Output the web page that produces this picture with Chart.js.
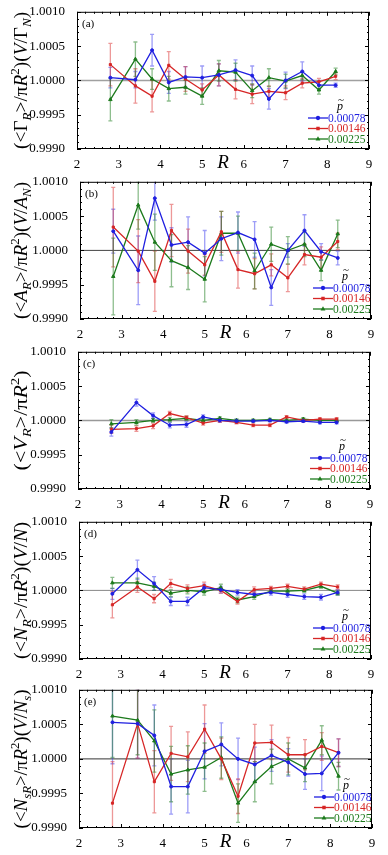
<!DOCTYPE html>
<html>
<head>
<meta charset="utf-8">
<script src="https://cdn.jsdelivr.net/npm/chart.js@4.4.1/dist/chart.umd.min.js"></script>
<style>
  html, body { margin: 0; padding: 0; background: #fff; }
  #wrap { position: relative; width: 388px; height: 855px; }
  #wrap canvas { position: absolute; left: 0; }
</style>
</head>
<body>
<div id="wrap">
  <canvas id="pa" width="388" height="172" style="top:0px"></canvas>
  <canvas id="pb" width="388" height="172" style="top:170px"></canvas>
  <canvas id="pc" width="388" height="172" style="top:340px"></canvas>
  <canvas id="pd" width="388" height="172" style="top:510px"></canvas>
  <canvas id="pe" width="388" height="172" style="top:678px"></canvas>
</div>
<script>
// R values shared by all panels
const R = [2.8, 3.4, 3.8, 4.2, 4.6, 5.0, 5.4, 5.8, 6.2, 6.6, 7.0, 7.4, 7.8, 8.2];
const pLabels = ['0.00078', '0.00146', '0.00225'];
const xTicks = [2, 3, 4, 5, 6, 7, 8, 9];
const yTicks = [0.9990, 0.9995, 1.0000, 1.0005, 1.0010];

// (a) Gamma
const gammaBlue  = [1.00004, 1.00001, 1.00044, 0.99997, 1.00005, 1.00004, 1.00008, 1.00015, 1.00007, 0.99973, 1.00000, 1.00013, 0.99993, 0.99993];
const gammaRed   = [1.00023, 0.99992, 0.99977, 1.00022, 1.00002, 0.99986, 1.00008, 0.99987, 0.99980, 0.99984, 0.99982, 0.99996, 0.99998, 1.00006];
const gammaGreen = [0.99972, 1.00031, 1.00002, 0.99988, 0.99990, 0.99977, 1.00014, 1.00012, 0.99985, 1.00004, 0.99999, 1.00007, 0.99986, 1.00013];
const gammaBlueErr  = [0.00015, 0.00012, 0.00023, 0.00016, 0.00015, 0.00017, 0.00016, 0.00015, 0.00014, 0.00015, 0.00012, 0.00014, 0.00006, 0.00003];
const gammaRedErr   = [0.00031, 0.00025, 0.00023, 0.00020, 0.00018, 0.00009, 0.00016, 0.00014, 0.00014, 0.00008, 0.00010, 0.00007, 0.00005, 0.00005];
const gammaGreenErr = [0.00031, 0.00025, 0.00015, 0.00018, 0.00010, 0.00012, 0.00015, 0.00013, 0.00010, 0.00013, 0.00010, 0.00006, 0.00006, 0.00005];

// (b) A
const areaBlue  = [1.00028, 0.99971, 1.00076, 1.00008, 1.00012, 0.99996, 1.00017, 1.00026, 1.00016, 0.99946, 1.00000, 1.00029, 0.99998, 0.99989];
const areaRed   = [1.00034, 0.99999, 0.99955, 1.00029, 0.99999, 0.99979, 1.00027, 0.99972, 0.99966, 0.99979, 0.99960, 0.99994, 0.99990, 1.00013];
const areaGreen = [0.99962, 1.00066, 1.00012, 0.99985, 0.99975, 0.99958, 1.00025, 1.00025, 0.99970, 1.00009, 1.00000, 1.00009, 0.99971, 1.00024];
const areaBlueErr  = [0.00032, 0.00050, 0.00032, 0.00025, 0.00037, 0.00033, 0.00032, 0.00030, 0.00026, 0.00026, 0.00010, 0.00023, 0.00012, 0.00010];
const areaRedErr   = [0.00058, 0.00046, 0.00044, 0.00038, 0.00032, 0.00015, 0.00030, 0.00027, 0.00022, 0.00016, 0.00020, 0.00015, 0.00015, 0.00012];
const areaGreenErr = [0.00056, 0.00035, 0.00041, 0.00038, 0.00032, 0.00033, 0.00032, 0.00025, 0.00026, 0.00025, 0.00020, 0.00018, 0.00015, 0.00020];

// (c) V
const volBlue  = [0.99983, 1.00026, 1.00007, 0.99993, 0.99994, 1.00005, 1.00000, 0.99999, 0.99999, 1.00000, 0.99998, 0.99999, 0.99997, 0.99997];
const volRed   = [0.99987, 0.99988, 0.99992, 1.00010, 1.00004, 0.99996, 1.00000, 0.99997, 0.99993, 0.99993, 1.00005, 1.00000, 1.00002, 1.00002];
const volGreen = [0.99995, 0.99997, 1.00000, 1.00001, 1.00003, 1.00000, 1.00003, 1.00000, 1.00000, 1.00001, 1.00000, 1.00002, 1.00000, 1.00000];
const volBlueErr  = [0.00006, 0.00005, 0.00004, 0.00004, 0.00004, 0.00003, 0.00003, 0.00003, 0.00002, 0.00002, 0.00002, 0.00002, 0.00002, 0.00002];
const volRedErr   = [0.00006, 0.00004, 0.00004, 0.00003, 0.00003, 0.00003, 0.00003, 0.00002, 0.00002, 0.00002, 0.00002, 0.00002, 0.00002, 0.00002];
const volGreenErr = [0.00006, 0.00004, 0.00003, 0.00003, 0.00003, 0.00003, 0.00002, 0.00002, 0.00002, 0.00002, 0.00002, 0.00002, 0.00002, 0.00002];

// (d) N
const numBlue  = [0.99995, 1.00030, 1.00010, 0.99984, 0.99984, 1.00004, 1.00001, 0.99997, 0.99994, 0.99997, 0.99994, 0.99991, 0.99990, 0.99997];
const numRed   = [0.99979, 1.00005, 0.99988, 1.00010, 1.00003, 1.00007, 1.00000, 0.99984, 1.00001, 1.00003, 1.00006, 1.00002, 1.00009, 1.00005];
const numGreen = [1.00011, 1.00011, 1.00006, 0.99996, 1.00000, 0.99998, 1.00004, 0.99986, 0.99991, 0.99999, 0.99999, 1.00000, 1.00006, 0.99996];
const numBlueErr  = [0.00008, 0.00014, 0.00010, 0.00006, 0.00006, 0.00005, 0.00005, 0.00004, 0.00004, 0.00004, 0.00004, 0.00004, 0.00004, 0.00004];
const numRedErr   = [0.00019, 0.00008, 0.00006, 0.00006, 0.00005, 0.00005, 0.00004, 0.00004, 0.00004, 0.00003, 0.00003, 0.00003, 0.00003, 0.00003];
const numGreenErr = [0.00008, 0.00007, 0.00006, 0.00005, 0.00005, 0.00005, 0.00005, 0.00004, 0.00004, 0.00003, 0.00003, 0.00003, 0.00003, 0.00003];

// (e) N_s
const surfBlue  = [1.00053, 1.00051, 1.00034, 0.99960, 0.99960, 1.00011, 1.00021, 1.00000, 0.99992, 1.00005, 0.99995, 0.99978, 0.99979, 1.00009];
const surfRed   = [0.99936, 1.00051, 0.99967, 1.00008, 1.00003, 1.00043, 1.00000, 0.99946, 1.00023, 1.00024, 1.00006, 1.00006, 1.00018, 1.00009];
const surfGreen = [1.00062, 1.00056, 1.00026, 0.99978, 0.99984, 0.99988, 1.00002, 0.99936, 0.99967, 0.99989, 1.00000, 0.99987, 1.00027, 0.99975];
const surfBlueErr  = [0.00060, 0.00050, 0.00044, 0.00040, 0.00038, 0.00040, 0.00031, 0.00030, 0.00025, 0.00023, 0.00020, 0.00022, 0.00025, 0.00020];
const surfRedErr   = [0.00060, 0.00050, 0.00045, 0.00039, 0.00036, 0.00035, 0.00030, 0.00025, 0.00027, 0.00025, 0.00025, 0.00022, 0.00020, 0.00020];
const surfGreenErr = [0.00060, 0.00050, 0.00045, 0.00040, 0.00035, 0.00035, 0.00030, 0.00028, 0.00029, 0.00025, 0.00023, 0.00020, 0.00021, 0.00020];

const colors = ['#1f1fe0', '#d62626', '#1c7a1c'];
const barColors = ['rgba(60,60,240,0.5)', 'rgba(220,50,50,0.5)', 'rgba(30,125,30,0.5)'];
const styles = ['circle', 'rect', 'triangle'];
const SERIF = '"Liberation Serif", "Times New Roman", serif';

// draws mixed text (italic / sub / sup) rotated along the y axis, squeezed to a given length
function drawRich(ctx, segs, x, cy, size, len) {
  const fontFor = (st) => {
    const small = st === 's' || st === 'bi';
    const sz = small ? size * 0.68 : size;
    const it = st === 'i' || st === 'bi';
    return (it ? 'italic ' : '') + sz + 'px ' + SERIF;
  };
  let total = 0;
  segs.forEach(([t, st]) => { ctx.font = fontFor(st); total += ctx.measureText(t).width; });
  ctx.save();
  ctx.translate(x, cy);
  ctx.rotate(-Math.PI / 2);
  ctx.scale(len / total, 1);
  ctx.fillStyle = '#000';
  ctx.textBaseline = 'alphabetic';
  ctx.textAlign = 'left';
  let px = -total / 2;
  segs.forEach(([t, st]) => {
    ctx.font = fontFor(st);
    let dy = 0;
    if (st === 'bi') dy = size * 0.22;
    if (st === 's') dy = -size * 0.42;
    ctx.fillText(t, px, dy);
    px += ctx.measureText(t).width;
  });
  ctx.restore();
}

function makePanel(id, p) {
  const series = p.series;
  const plugin = {
    id: 'panel_' + id,
    beforeDatasetsDraw(chart) {
      const { ctx, chartArea: a, scales: { x, y } } = chart;
      ctx.save();
      ctx.beginPath();
      ctx.rect(a.left, a.top, a.right - a.left, a.bottom - a.top);
      ctx.clip();
      // reference line at 1
      ctx.strokeStyle = p.refColor;
      ctx.lineWidth = p.refWidth;
      ctx.beginPath();
      ctx.moveTo(a.left, y.getPixelForValue(1));
      ctx.lineTo(a.right, y.getPixelForValue(1));
      ctx.stroke();
      // error bars
      series.forEach((s, k) => {
        ctx.strokeStyle = barColors[k];
        ctx.lineWidth = 1.3;
        R.forEach((r, i) => {
          const px = x.getPixelForValue(r);
          const y1 = y.getPixelForValue(s.v[i] - s.e[i]);
          const y2 = y.getPixelForValue(s.v[i] + s.e[i]);
          ctx.beginPath();
          ctx.moveTo(px, y1); ctx.lineTo(px, y2);
          ctx.moveTo(px - 2, y1); ctx.lineTo(px + 2, y1);
          ctx.moveTo(px - 2, y2); ctx.lineTo(px + 2, y2);
          ctx.stroke();
        });
      });
      ctx.restore();
    },
    afterDraw(chart) {
      const { ctx, chartArea: a, scales: { x, y } } = chart;
      ctx.save();
      // frame
      ctx.strokeStyle = '#000';
      ctx.lineWidth = 1;
      ctx.strokeRect(a.left + 0.5, a.top + 0.5, a.right - a.left - 1, a.bottom - a.top - 1);
      // inward ticks
      ctx.beginPath();
      for (let j = 0; j <= 35; j++) {
        const px = Math.round(x.getPixelForValue(2 + j * 0.2)) + 0.5;
        const len = j % 5 === 0 ? 4 : 2;
        ctx.moveTo(px, a.bottom); ctx.lineTo(px, a.bottom - len);
        ctx.moveTo(px, a.top); ctx.lineTo(px, a.top + len);
      }
      for (let j = 0; j <= 20; j++) {
        const py = Math.round(y.getPixelForValue(0.999 + j * 0.0001)) + 0.5;
        const len = j % 5 === 0 ? 4 : 2;
        ctx.moveTo(a.left, py); ctx.lineTo(a.left + len, py);
        ctx.moveTo(a.right, py); ctx.lineTo(a.right - len, py);
      }
      ctx.stroke();
      // panel label
      ctx.fillStyle = '#000';
      ctx.font = '11px ' + SERIF;
      ctx.textBaseline = 'middle';
      ctx.textAlign = 'left';
      ctx.fillText(p.tag, a.left + 5, a.top + 12);
      // x title
      ctx.font = 'italic 19px ' + SERIF;
      ctx.textAlign = 'center';
      ctx.textBaseline = 'alphabetic';
      ctx.fillText('R', (a.left + a.right) / 2, a.bottom + 19);
      // y title
      drawRich(ctx, p.ytitle, 27, (a.top + a.bottom) / 2, 19, p.titleLen);
      // legend
      const lx = p.legendX;
      const offs = [31, 20.5, 10];
      ctx.font = 'italic 12px ' + SERIF;
      ctx.textAlign = 'center';
      ctx.textBaseline = 'alphabetic';
      ctx.fillText('p', lx + 32, a.bottom - 39);
      ctx.font = '11px ' + SERIF;
      ctx.fillText('~', lx + 33, a.bottom - 46);
      series.forEach((s, k) => {
        const ly = a.bottom - offs[k];
        ctx.strokeStyle = colors[k];
        ctx.fillStyle = colors[k];
        ctx.lineWidth = 1.3;
        ctx.beginPath();
        ctx.moveTo(lx, ly); ctx.lineTo(lx + 20, ly);
        ctx.stroke();
        Chart.helpers.drawPoint(ctx, { pointStyle: styles[k], radius: 1.5, borderWidth: 1 }, lx + 10, ly);
        ctx.font = '11.5px ' + SERIF;
        ctx.textAlign = 'left';
        ctx.textBaseline = 'middle';
        ctx.fillText(pLabels[k], lx + 20, ly + 0.5);
      });
      ctx.restore();
    }
  };

  return new Chart(document.getElementById(id), {
    type: 'line',
    data: {
      datasets: series.map((s, k) => ({
        label: pLabels[k],
        data: R.map((r, i) => ({ x: r, y: s.v[i] })),
        borderColor: colors[k],
        backgroundColor: colors[k],
        borderWidth: 1.3,
        pointStyle: styles[k],
        pointRadius: k === 2 ? 2 : 1.5,
        pointBorderWidth: 1,
        tension: 0,
        fill: false
      }))
    },
    options: {
      responsive: false,
      animation: false,
      layout: { autoPadding: false, padding: { top: 9, left: 0, right: 388 - p.right, bottom: 0 } },
      plugins: { legend: { display: false }, tooltip: { enabled: false } },
      scales: {
        x: {
          type: 'linear', min: 2, max: 9,
          afterBuildTicks: (s) => { s.ticks = xTicks.map(v => ({ value: v })); },
          ticks: { color: '#000', font: { family: SERIF, size: 13 }, padding: 0, maxRotation: 0, autoSkip: false },
          grid: { display: false },
          border: { display: false },
          afterFit: (s) => { s.height = 172 - 9 - p.plotH; }
        },
        y: {
          min: 0.999, max: 1.001,
          afterBuildTicks: (s) => { s.ticks = yTicks.map(v => ({ value: v })); },
          ticks: { color: '#000', font: { family: SERIF, size: 13 }, padding: 4, callback: v => v.toFixed(4) },
          grid: { display: false },
          border: { display: false },
          afterFit: (s) => { s.width = p.left; }
        }
      }
    },
    plugins: [plugin]
  });
}

makePanel('pa', {
  tag: '(a)', left: 77, right: 369, plotH: 140, legendX: 308, refColor: '#a0a0a0', refWidth: 1.5, titleLen: 137,
  ytitle: [['(<Γ', 'n'], ['R', 'bi'], ['>/π', 'n'], ['R', 'i'], ['2', 's'], [')(', 'n'], ['V', 'i'], ['/Γ', 'n'], ['N', 'bi'], [')', 'n']],
  series: [{ v: gammaBlue, e: gammaBlueErr }, { v: gammaRed, e: gammaRedErr }, { v: gammaGreen, e: gammaGreenErr }]
});
makePanel('pb', {
  tag: '(b)', left: 80, right: 371, plotH: 140, legendX: 313, refColor: '#444', refWidth: 1, titleLen: 137,
  ytitle: [['(<', 'n'], ['A', 'i'], ['R', 'bi'], ['>/π', 'n'], ['R', 'i'], ['2', 's'], [')(', 'n'], ['V', 'i'], ['/', 'n'], ['A', 'i'], ['N', 'bi'], [')', 'n']],
  series: [{ v: areaBlue, e: areaBlueErr }, { v: areaRed, e: areaRedErr }, { v: areaGreen, e: areaGreenErr }]
});
makePanel('pc', {
  tag: '(c)', left: 78, right: 370, plotH: 140, legendX: 310, refColor: '#999', refWidth: 1.5, titleLen: 100,
  ytitle: [['(<', 'n'], ['V', 'i'], ['R', 'bi'], ['>/π', 'n'], ['R', 'i'], ['2', 's'], [')', 'n']],
  series: [{ v: volBlue, e: volBlueErr }, { v: volRed, e: volRedErr }, { v: volGreen, e: volGreenErr }]
});
makePanel('pd', {
  tag: '(d)', left: 79, right: 371, plotH: 140, legendX: 313, refColor: '#888', refWidth: 1, titleLen: 137,
  ytitle: [['(<', 'n'], ['N', 'i'], ['R', 'bi'], ['>/π', 'n'], ['R', 'i'], ['2', 's'], [')(', 'n'], ['V', 'i'], ['/', 'n'], ['N', 'i'], [')', 'n']],
  series: [{ v: numBlue, e: numBlueErr }, { v: numRed, e: numRedErr }, { v: numGreen, e: numGreenErr }]
});
makePanel('pe', {
  tag: '(e)', left: 79, right: 372, plotH: 141, legendX: 314, refColor: '#333', refWidth: 1, titleLen: 139,
  ytitle: [['(<', 'n'], ['N', 'i'], ['sR', 'bi'], ['>/π', 'n'], ['R', 'i'], ['2', 's'], [')(', 'n'], ['V', 'i'], ['/', 'n'], ['N', 'i'], ['s', 'bi'], [')', 'n']],
  series: [{ v: surfBlue, e: surfBlueErr }, { v: surfRed, e: surfRedErr }, { v: surfGreen, e: surfGreenErr }]
});
</script>
</body>
</html>
